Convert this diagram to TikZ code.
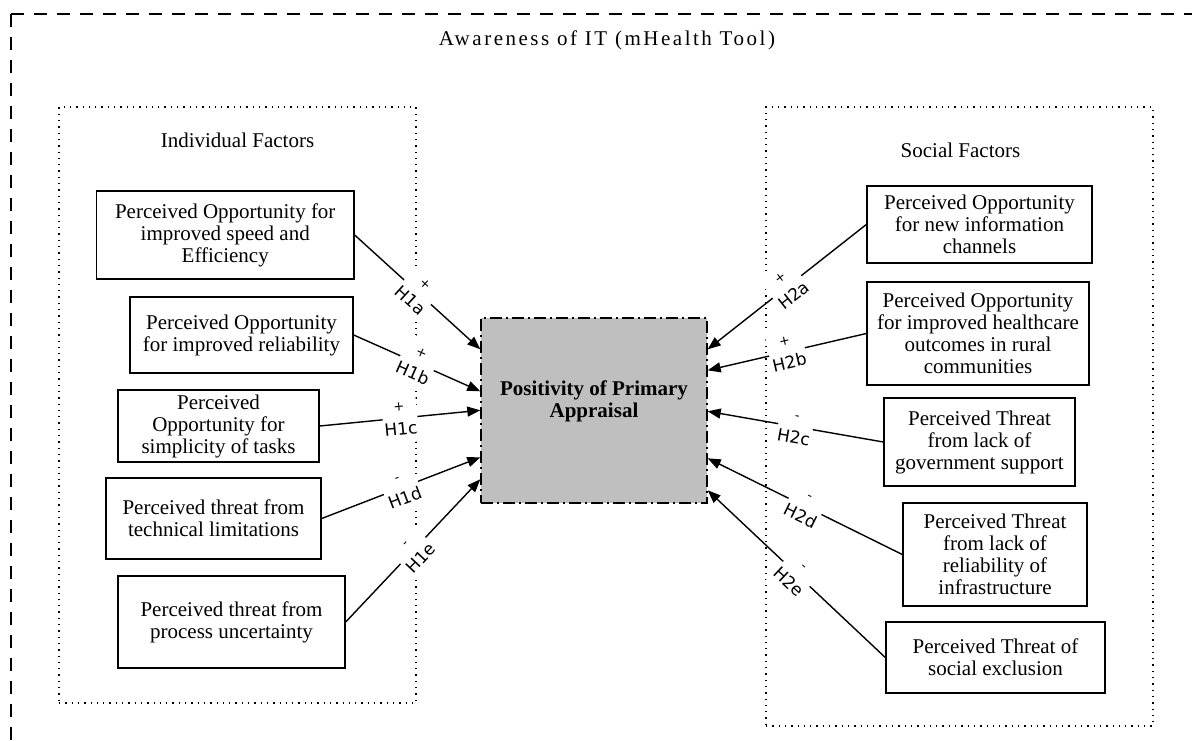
\documentclass[tikz,border=0pt]{standalone}
\usepackage{fontspec}
\setmainfont{Liberation Serif}
\newfontfamily\lblfont{DejaVu Sans}
\newfontfamily\titlefont[LetterSpace=12]{Liberation Serif}
\usetikzlibrary{arrows.meta,calc}
\definecolor{boxgray}{HTML}{BFBFBF}
\tikzset{
  fbox/.style={draw, line width=1.4pt, align=center, inner sep=0pt, font=\fontsize{21}{22}\selectfont},
  grp/.style={draw, line width=1.3pt, dash pattern=on 1.3pt off 5pt, inner sep=0pt},
  frame/.style={line width=1.5pt, dash pattern=on 13pt off 10pt},
  conn/.style={line width=1.4pt, -{Triangle[length=13pt,width=10pt]}},
  lbl/.style={midway, sloped, fill=white, align=center, inner sep=1pt, font=\lblfont\fontsize{17}{24}\selectfont},
  hdr/.style={anchor=base, font=\fontsize{21}{22}\selectfont},
}
\newcommand\sgn[1]{{\fontsize{13}{24}\selectfont\strut #1}}
\begin{document}
\begin{tikzpicture}[x=1pt,y=-1pt]
\clip (0,0) rectangle (1192,740);
% outer frame (clipped at right and bottom)
\coordinate (fo) at (11,14);
\coordinate (fr) at (1205,14);
\coordinate (fb) at (11,755);
\draw[frame] (fo) -- (fr);
\draw[frame] (fo) -- (fb);
\node[anchor=base, font=\titlefont\fontsize{21}{22}\selectfont] (title) at (607,45) {Awareness of IT (mHealth Tool)};

% group boxes
\node[grp, minimum width=357pt, minimum height=596pt] (gi) at (237.5,405) {};
\node[grp, minimum width=387pt, minimum height=619pt] (gs) at (959.5,416.5) {};
\node[hdr] (gil) at (237.5,147) {Individual Factors};
\node[hdr] (gsl) at (960.5,157) {Social Factors};

% centre
\node[draw, fill=boxgray, line width=1.4pt, dash pattern=on 12pt off 4pt on 2pt off 4pt,
      minimum width=226pt, minimum height=185pt, inner sep=0pt] (c) at (594,410.5) {};
\node[align=center, font=\bfseries\fontsize{21}{22}\selectfont] (ct) at (594,401) {Positivity of Primary\\Appraisal};

% left factors
\node[fbox, minimum width=257.5pt, minimum height=88pt] (l1) at (225.25,235) {Perceived Opportunity for\\improved speed and\\Efficiency};
\node[fbox, minimum width=223pt, minimum height=76pt] (l2) at (241.5,335) {Perceived Opportunity\\for improved reliability};
\node[fbox, minimum width=201pt, minimum height=72pt] (l3) at (218.5,426) {Perceived\\Opportunity for\\simplicity of tasks};
\node[fbox, minimum width=215pt, minimum height=81pt] (l4) at (213.5,518.5) {Perceived threat from\\technical limitations};
\node[fbox, minimum width=227pt, minimum height=92pt] (l5) at (231.5,622) {Perceived threat from\\process uncertainty};

% right factors
\node[fbox, minimum width=225pt, minimum height=77pt] (r1) at (979.5,224.5) {Perceived Opportunity\\for new information\\channels};
\node[fbox, minimum width=222pt, minimum height=103pt] (r2) at (978,333.5) {Perceived Opportunity\\for improved healthcare\\outcomes in rural\\communities};
\node[fbox, minimum width=191pt, minimum height=88pt] (r3) at (979.5,442) {Perceived Threat\\from lack of\\government support};
\node[fbox, minimum width=184pt, minimum height=103pt] (r4) at (995,554.5) {Perceived Threat\\from lack of\\reliability of\\infrastructure};
\node[fbox, minimum width=219pt, minimum height=71pt] (r5) at (995.5,657.5) {Perceived Threat of\\social exclusion};

% arrow end points on the centre box
\coordinate (e1a) at ($(c.north west)+(0,32)$);
\coordinate (e1b) at ($(c.north west)+(0,74)$);
\coordinate (e1c) at ($(c.north west)+(0,93)$);
\coordinate (e1d) at ($(c.north west)+(0,140)$);
\coordinate (e1e) at ($(c.north west)+(0,162)$);
\coordinate (e2a) at ($(c.north east)+(0,32)$);
\coordinate (e2b) at ($(c.north east)+(0,53)$);
\coordinate (e2c) at ($(c.north east)+(0,94)$);
\coordinate (e2d) at ($(c.north east)+(0,141)$);
\coordinate (e2e) at ($(c.north east)+(0,173)$);

\draw[conn] (l1.east) -- node[lbl] {\sgn{+}\\\strut H1a} (e1a);
\draw[conn] (l2.east) -- node[lbl] {\sgn{+}\\\strut H1b} (e1b);
\draw[conn] (l3.east) -- node[lbl] {\sgn{+}\\\strut H1c} (e1c);
\draw[conn] (l4.east) -- node[lbl] {\sgn{-}\\\strut H1d} (e1d);
\draw[conn] (l5.east) -- node[lbl] {\sgn{-}\\\strut H1e} (e1e);
\draw[conn] (r1.west) -- node[lbl] {\sgn{+}\\\strut H2a} (e2a);
\draw[conn] (r2.west) -- node[lbl] {\sgn{+}\\\strut H2b} (e2b);
\draw[conn] (r3.west) -- node[lbl] {\sgn{-}\\\strut H2c} (e2c);
\draw[conn] (r4.west) -- node[lbl] {\sgn{-}\\\strut H2d} (e2d);
\draw[conn] (r5.west) -- node[lbl] {\sgn{-}\\\strut H2e} (e2e);
\end{tikzpicture}
\end{document}
